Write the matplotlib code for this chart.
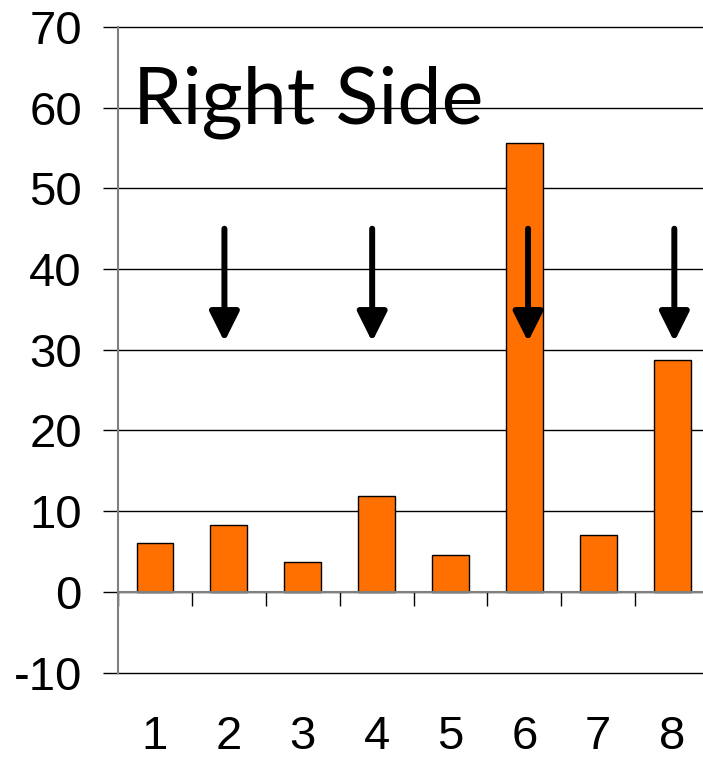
import matplotlib.pyplot as plt
import numpy as np

plt.rcParams['axes.unicode_minus'] = False

categories = [1, 2, 3, 4, 5, 6, 7, 8]
values = [6.0, 8.3, 3.7, 11.9, 4.6, 55.6, 7.0, 28.7]
y_ticks = [-10, 0, 10, 20, 30, 40, 50, 60, 70]
arrow_x = [1.94, 3.94, 6.05, 8.03]
arrow_top, arrow_tip = 45, 31

fig = plt.figure(figsize=(7.03, 7.58), dpi=100)
ax = fig.add_axes([0.1679, 0.1127, 0.8407, 0.8517])

ax.bar(categories, values, width=0.5, color='#FF7000', edgecolor='black',
       linewidth=1, zorder=3)

ax.set_xlim(0.5, 8.5)
ax.set_ylim(-10, 70)

# horizontal grid lines
ax.set_yticks(y_ticks)
ax.set_yticklabels([str(v) for v in y_ticks], fontsize=34, family='Liberation Sans')
ax.yaxis.grid(True, color='black', linewidth=1)
for gl in ax.get_ygridlines():
    gl.set_clip_on(False)
ax.set_axisbelow(True)
ax.tick_params(axis='y', length=11, width=1, color='black', pad=15)

# x axis line sits at zero, labels far below
for s in ['top', 'right']:
    ax.spines[s].set_visible(False)
ax.spines['left'].set_color('#808080')
ax.spines['left'].set_linewidth(1.5)
ax.spines['bottom'].set_position(('data', 0))
ax.spines['bottom'].set_color('#808080')
ax.spines['bottom'].set_linewidth(1.5)
ax.spines['bottom'].set_zorder(4)

ax.set_xticks(categories)
ax.set_xticklabels([str(c) for c in categories], fontsize=34, family='Liberation Sans')
ax.set_xticks(np.arange(0.5, 8.6, 1), minor=True)
ax.tick_params(axis='x', which='major', length=0, pad=89)
ax.tick_params(axis='x', which='minor', length=10, width=1, color='black')

for x in arrow_x:
    ax.annotate('', xy=(x, arrow_tip), xytext=(x, arrow_top),
                arrowprops=dict(arrowstyle='-|>,head_length=0.9,head_width=0.45',
                                lw=4.3, color='black', mutation_scale=20,
                                shrinkA=0, shrinkB=0),
                zorder=5)

ax.text(0.7, 58.1, 'Right Side', fontsize=57, family='Lato',
        ha='left', va='baseline', zorder=6)

fig.savefig('out.png', dpi=100)
